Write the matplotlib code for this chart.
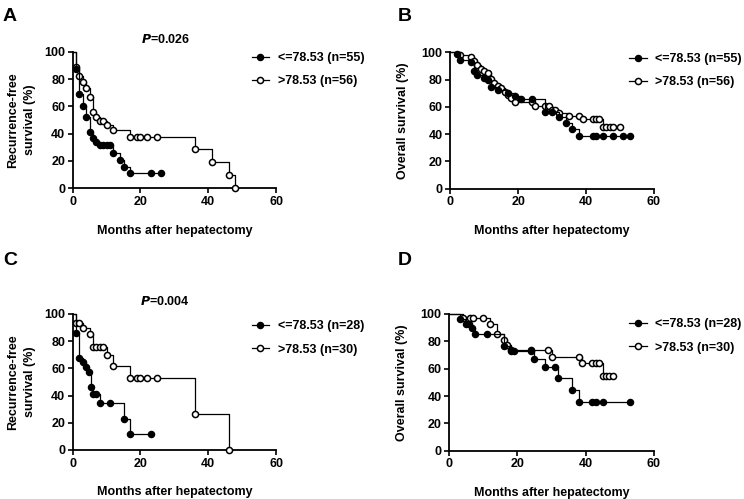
import matplotlib
matplotlib.use("Agg")
import matplotlib.pyplot as plt
from matplotlib.lines import Line2D

plt.rcParams['font.family'] = ['Liberation Sans', 'DejaVu Sans']
plt.rcParams['font.weight'] = 'bold'

# ---------------- data ----------------
# Panel A: recurrence-free survival, cohort 1
a_low_t = [0, 1, 2, 3, 4, 5, 6, 7, 8, 9, 10, 11, 12, 14, 15, 17, 23, 26]
a_low_s = [100, 87, 69, 60, 52, 41, 37, 34, 31.5, 31.5, 31.5, 31.5, 26, 20.5, 15.5, 11, 11, 11]
a_high_t = [0, 1, 2, 3, 4, 5, 6, 7, 8, 9, 10, 12, 17, 19, 20, 22, 25, 36, 41, 46, 48]
a_high_s = [100, 89, 82, 78, 73.5, 67, 56, 52, 49.5, 49.5, 46.5, 42.7, 37.8, 37.8, 37.8, 37.8, 37.8, 28.5, 19, 9.8, 0]

# Panel B: overall survival, cohort 1
b_low_t = [0, 2, 3, 6, 7, 8, 10, 11, 12, 14, 17, 19, 21, 24, 28, 30, 32, 34, 36, 38, 42, 43, 45, 48, 51, 53]
b_low_s = [100, 98.5, 94.5, 92.7, 86, 83, 81, 79.5, 74.5, 72.5, 70, 68, 65.5, 65.5, 56.5, 56.5, 52.3,
           47.9, 43.5, 39, 39, 39, 39, 39, 39, 39]
b_high_t = [0, 3, 6, 7, 8, 9, 10, 11, 12, 13, 14, 15, 16, 17, 18, 19, 24, 25, 28, 29, 30, 31, 32, 35,
            38, 39, 42, 43, 44, 45, 46, 47, 48, 50]
b_high_s = [100, 98, 96.8, 93.6, 90.7, 87.5, 86.5, 85, 80.2, 77.3, 75.5, 73.6, 71.1, 68.7, 66.7, 63.8,
            63.8, 60.5, 60.5, 60.5, 58, 58, 55.5, 53.3, 53.3, 50.9, 50.9, 50.9, 50.9, 45.5, 45.5, 45.5,
            45.5, 45.5]

# Panel C: recurrence-free survival, cohort 2
c_low_t = [0, 1, 2, 3, 4, 4.7, 5.3, 6, 7, 8, 11, 15, 17, 23]
c_low_s = [100, 86, 68, 65, 61, 57, 46, 41, 41, 34.3, 34.3, 22.8, 11.8, 11.8]
c_high_t = [0, 1, 2, 3, 5, 6, 7, 8, 9, 10, 12, 17, 19, 20, 22, 25, 36, 46]
c_high_s = [100, 93.7, 93.7, 89.5, 85, 76, 76, 76, 76, 69.9, 62, 53.3, 53.3, 53.3, 53.3, 53.3, 26.5, 0]

# Panel D: overall survival, cohort 2
d_low_t = [0, 3, 5, 5.8, 6.7, 7.5, 11, 16, 18, 19, 24, 25, 28, 31, 32, 36, 38, 42, 43, 45, 53]
d_low_s = [100, 96.5, 93, 93, 89.8, 85.3, 85.3, 76.7, 72.6, 72.6, 72.6, 66.8, 61.5, 61.5, 52.9, 44.4,
           35.4, 35.4, 35.4, 35.4, 35.4]
d_high_t = [0, 4, 6, 7, 10, 12, 14, 16, 17, 18, 24, 29, 30, 38, 39, 42, 43, 44, 45, 46, 47, 48]
d_high_s = [100, 96.8, 96.8, 96.8, 96.8, 93, 85.3, 81.2, 77.3, 73.7, 73.7, 73.7, 68.8, 68.8, 63.9, 63.9,
            63.9, 63.9, 54.6, 54.6, 54.6, 54.6]

panel_letters = ["A", "B", "C", "D"]
ylabels = ["Recurrence-free\nsurvival (%)", "Overall survival (%)",
           "Recurrence-free\nsurvival (%)", "Overall survival (%)"]
xlabel = "Months after hepatectomy"
pvalues = ["0.026", None, "0.004", None]
legend_low = ["<=78.53 (n=55)", "<=78.53 (n=55)", "<=78.53 (n=28)", "<=78.53 (n=28)"]
legend_high = [">78.53 (n=56)", ">78.53 (n=56)", ">78.53 (n=30)", ">78.53 (n=30)"]
xticks = [0, 20, 40, 60]
yticks = [0, 20, 40, 60, 80, 100]

series = [(a_low_t, a_low_s, a_high_t, a_high_s),
          (b_low_t, b_low_s, b_high_t, b_high_s),
          (c_low_t, c_low_s, c_high_t, c_high_s),
          (d_low_t, d_low_s, d_high_t, d_high_s)]

# ---------------- figure ----------------
W, H = 744, 499
fig = plt.figure(figsize=(W / 100, H / 100), dpi=100)

# axes boxes in pixels: (x0, x60, y100, y0)
boxes = [(72.7, 276.0, 51.7, 188.3),
         (450.3, 653.7, 52.3, 188.7),
         (72.7, 276.0, 314.0, 450.0),
         (449.3, 653.7, 314.0, 450.7)]
letter_pos = [(3, 8), (398, 8), (3, 252), (398, 252)]
ylabel_pad = [6, 9, 6, 9]
legend_y = [1.035, 1.03, 0.99, 1.005]

MS = 4.4
LW = 0.9

for i, (x0, x1, ytop, ybot) in enumerate(boxes):
    ax = fig.add_axes([x0 / W, 1 - ybot / H, (x1 - x0) / W, (ybot - ytop) / H])
    lt, ls, ht, hs = series[i]
    # high (open) series
    ax.step(ht, hs, where='post', color='black', lw=LW, clip_on=False, zorder=2)
    ax.plot(ht[1:], hs[1:], 'o', mfc='white', mec='black', mew=1.1, ms=MS, clip_on=False, zorder=3)
    # low (filled) series
    ax.step(lt, ls, where='post', color='black', lw=LW, clip_on=False, zorder=4)
    ax.plot(lt[1:], ls[1:], 'o', mfc='black', mec='black', mew=1.0, ms=MS, clip_on=False, zorder=5)

    ax.set_xlim(0, 60)
    ax.set_ylim(0, 100)
    ax.set_xticks(xticks)
    ax.set_yticks(yticks)
    for s in ['top', 'right']:
        ax.spines[s].set_visible(False)
    for s in ['left', 'bottom']:
        ax.spines[s].set_linewidth(1.3)
    ax.tick_params(direction='out', length=3.5, width=1.2, labelsize=9, pad=2)
    for lab in ax.get_xticklabels() + ax.get_yticklabels():
        lab.set_fontweight('bold')
    ax.set_xlabel(xlabel, fontsize=9, fontweight='bold', labelpad=12)
    ax.set_ylabel(ylabels[i], fontsize=9, fontweight='bold', labelpad=ylabel_pad[i],
                  linespacing=1.5)

    if pvalues[i] is not None:
        ax.text(0.455, 1.09, r"$\mathbf{\mathit{P}}$" + "=" + pvalues[i], transform=ax.transAxes,
                ha='center', va='center', fontsize=9, fontweight='bold')

    handles = [Line2D([], [], color='black', lw=LW, marker='o', mfc='black', mec='black', ms=MS),
               Line2D([], [], color='black', lw=LW, marker='o', mfc='white', mec='black', mew=1.1, ms=MS)]
    leg = ax.legend(handles, [legend_low[i], legend_high[i]], loc='upper left',
                    bbox_to_anchor=(0.855, legend_y[i]), frameon=False, fontsize=9,
                    handlelength=1.4, handletextpad=0.7, labelspacing=0.9, borderaxespad=0)
    for t in leg.get_texts():
        t.set_fontweight('bold')

    lx, ly = letter_pos[i]
    fig.text(lx / W, 1 - ly / H, panel_letters[i], fontsize=14, fontweight='bold',
             ha='left', va='top')

fig.savefig("out.png", dpi=100)
